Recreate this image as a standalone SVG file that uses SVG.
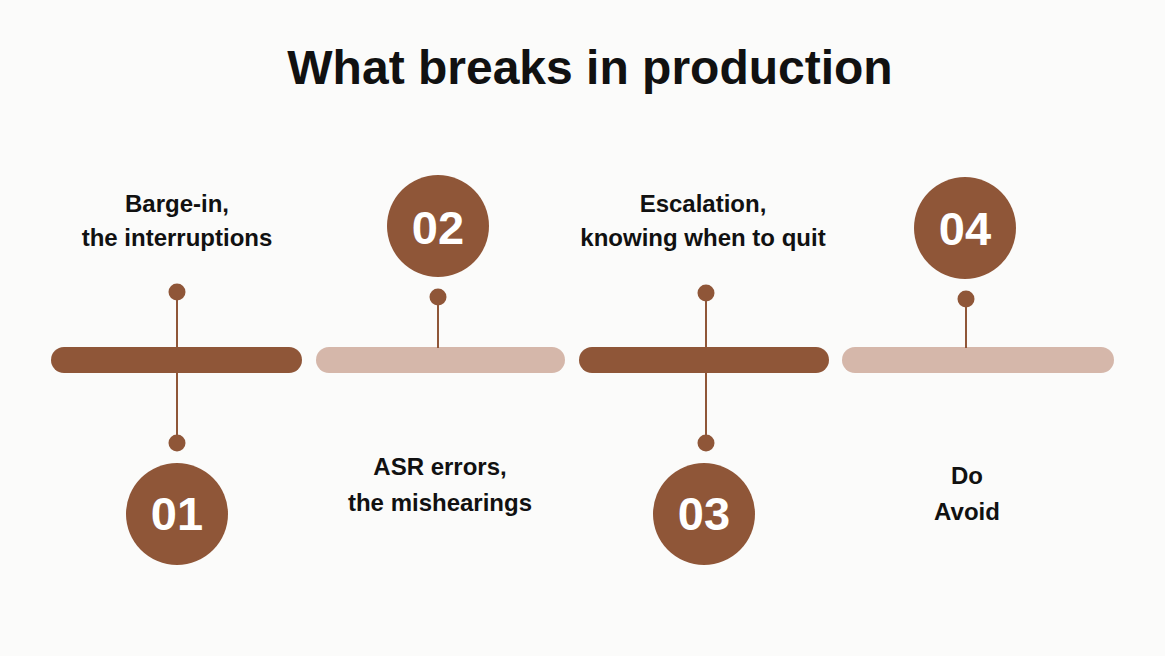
<svg xmlns="http://www.w3.org/2000/svg" width="1165" height="656" viewBox="0 0 1165 656">
<style>
.bg{fill:#FBFBFA}
.title{font-family:"Liberation Sans",Arial,sans-serif;font-weight:700;font-size:48px;fill:#111111;text-anchor:middle}
.lbl{font-family:"Liberation Sans",Arial,sans-serif;font-weight:700;font-size:24px;fill:#111111;text-anchor:middle}
.num{font-family:"Liberation Sans",Arial,sans-serif;font-weight:700;font-size:47px;fill:#FFFFFF;text-anchor:middle}
.dark{fill:#8F5638}
.light{fill:#D5B7AA}
.stem{stroke:#8F5638;stroke-width:2;fill:none}
.dot{fill:#8F5638}
</style>
<rect class="bg" x="0" y="0" width="1165" height="656"/>
<text class="title" x="590" y="84">What breaks in production</text>

<g id="bars">
<rect class="dark" x="51" y="347" width="251" height="26" rx="13"/>
<rect class="light" x="316" y="347" width="249" height="26" rx="13"/>
<rect class="dark" x="579" y="347" width="250" height="26" rx="13"/>
<rect class="light" x="842" y="347" width="272" height="26" rx="13"/>
</g>

<g id="connectors">
<line class="stem" x1="177" y1="292" x2="177" y2="443"/>
<line class="stem" x1="438" y1="297" x2="438" y2="348"/>
<line class="stem" x1="706" y1="293" x2="706" y2="443"/>
<line class="stem" x1="966" y1="299" x2="966" y2="348"/>
</g>

<g id="step1">
<circle class="dot" cx="177" cy="292" r="8.5"/>
<circle class="dot" cx="177" cy="443" r="8.5"/>
<circle class="dark" cx="177" cy="514" r="51"/>
<text class="num" x="177" y="530">01</text>
<text class="lbl" x="177" y="212">Barge-in,</text>
<text class="lbl" x="177" y="246">the interruptions</text>
</g>

<g id="step2">
<circle class="dot" cx="438" cy="297" r="8.5"/>
<circle class="dark" cx="438" cy="226" r="51"/>
<text class="num" x="438" y="244">02</text>
<text class="lbl" x="440" y="475">ASR errors,</text>
<text class="lbl" x="440" y="511">the mishearings</text>
</g>

<g id="step3">
<circle class="dot" cx="706" cy="293" r="8.5"/>
<circle class="dot" cx="706" cy="443" r="8.5"/>
<circle class="dark" cx="704" cy="514" r="51"/>
<text class="num" x="704" y="530">03</text>
<text class="lbl" x="703" y="212">Escalation,</text>
<text class="lbl" x="703" y="246">knowing when to quit</text>
</g>

<g id="step4">
<circle class="dot" cx="966" cy="299" r="8.5"/>
<circle class="dark" cx="965" cy="228" r="51"/>
<text class="num" x="965" y="245">04</text>
<text class="lbl" x="967" y="484">Do</text>
<text class="lbl" x="967" y="520">Avoid</text>
</g>
</svg>
